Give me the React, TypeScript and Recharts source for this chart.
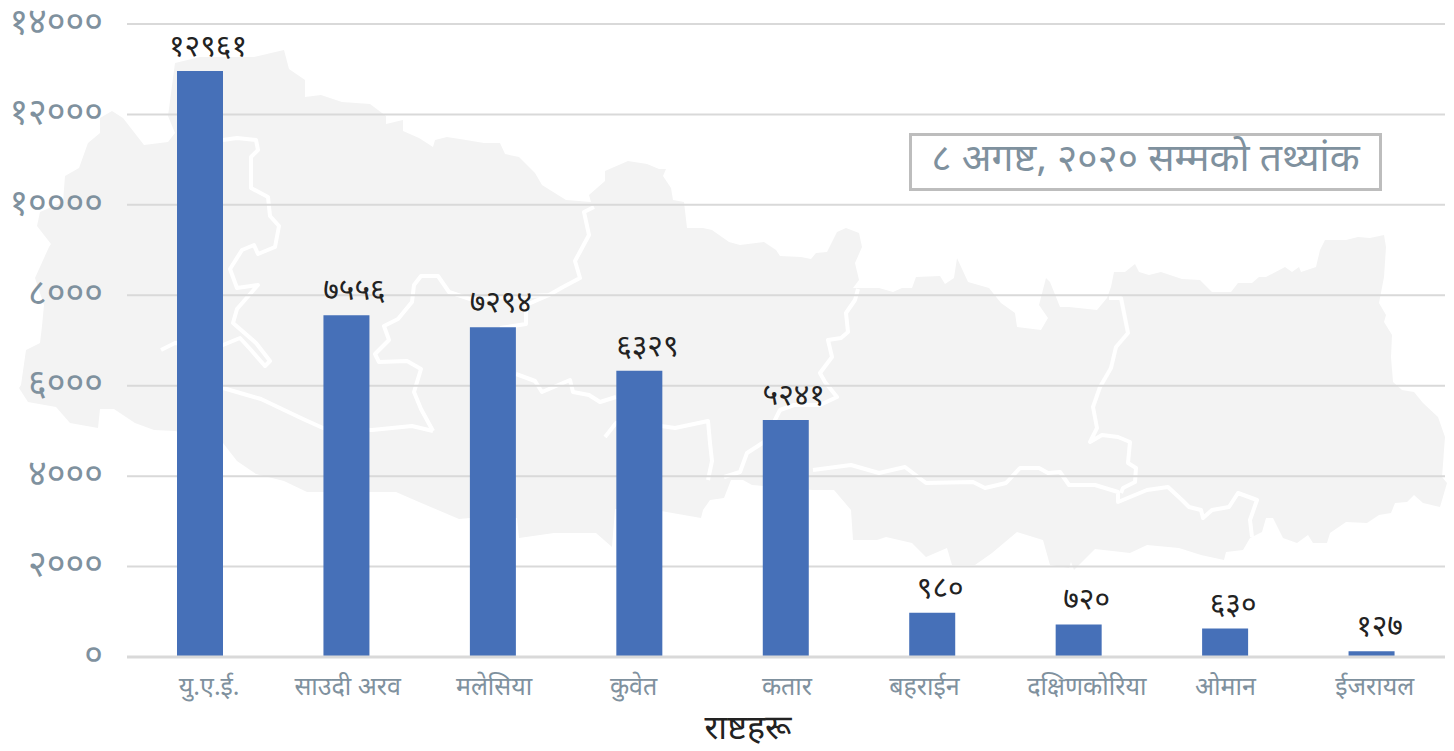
import { BarChart, Bar, XAxis, YAxis, CartesianGrid, LabelList } from 'recharts'

const countries = ['यु.ए.ई.', 'साउदी अरव', 'मलेसिया', 'कुवेत', 'कतार', 'बहराईन', 'दक्षिणकोरिया', 'ओमान', 'ईजरायल']
const infected = [12961, 7556, 7294, 6329, 5241, 980, 720, 630, 127]
const yTicks = [0, 2000, 4000, 6000, 8000, 10000, 12000, 14000]
// the source chart's category labels sit a bit off-centre
const tickNudge = [9, 1, 1, -6, 1, -8, 8, 0, 3]

const data = countries.map((name, i) => ({ name, value: infected[i] }))

const FONT = '"Noto Sans Devanagari", "Noto Sans", "Liberation Sans", sans-serif'
const nepaliDigits = '०१२३४५६७८९'
const toNepali = (n: number) => String(n).replace(/\d/g, (d) => nepaliDigits[Number(d)])

// backdrop map, traced by hand, just decoration behind the chart
const mapOutline =
  'M175 63 L200 57 L254 57 L284 50 L289 69 L305 80 L305 97 L321 95 L342 102 L370 104 L386 116 L386 124 L403 120 L403 131 L419 138 L433 147 L435 140 L447 137 L466 140 L484 143 L500 143 L505 154 L519 157 L535 173 L542 185 L566 200 L591 202 L589 195 L605 181 L605 171 L628 161 L647 164 L659 169 L666 169 L663 176 L671 188 L673 200 L684 202 L687 228 L703 228 L712 230 L729 242 L740 245 L764 242 L776 250 L780 256 L801 257 L811 259 L816 253 L827 252 L837 232 L846 228 L859 233 L862 247 L855 263 L859 280 L853 288 L879 288 L893 292 L902 288 L912 288 L916 277 L940 276 L945 284 L954 278 L957 258 L968 282 L989 288 L1001 303 L1015 313 L1017 327 L1041 330 L1048 318 L1039 305 L1046 278 L1050 282 L1060 307 L1069 307 L1097 310 L1107 298 L1111 287 L1114 272 L1125 272 L1135 264 L1139 272 L1149 275 L1161 272 L1182 279 L1200 280 L1212 292 L1231 292 L1238 283 L1252 283 L1259 277 L1266 277 L1285 267 L1292 272 L1299 267 L1301 272 L1316 267 L1320 250 L1325 240 L1346 240 L1358 237 L1370 238 L1384 235 L1386 247 L1384 277 L1379 303 L1386 315 L1384 322 L1392 335 L1391 357 L1393 382 L1402 390 L1414 392 L1423 403 L1438 417 L1445 437 L1442 477 L1447 483 L1440 507 L1423 503 L1414 495 L1407 502 L1395 503 L1391 513 L1379 515 L1367 523 L1346 522 L1330 533 L1327 543 L1313 543 L1308 535 L1297 543 L1283 538 L1273 518 L1266 518 L1262 532 L1250 538 L1243 550 L1226 552 L1224 560 L1201 555 L1179 548 L1147 545 L1130 553 L1095 549 L1074 570 L1071 562 L1069 568 L1050 565 L1043 540 L1017 532 L992 553 L975 565 L952 565 L947 548 L926 557 L912 543 L886 537 L877 540 L853 540 L851 510 L834 490 L813 490 L752 485 L743 480 L731 480 L724 498 L710 500 L703 510 L701 518 L661 511 L615 509 L612 547 L596 533 L554 533 L519 538 L517 518 L470 518 L459 519 L419 502 L396 492 L307 492 L284 481 L256 474 L237 461 L223 443 L175 431 L154 430 L135 423 L114 409 L100 409 L98 428 L70 423 L56 407 L28 402 L19 388 L21 385 L26 350 L40 343 L42 326 L44 305 L35 278 L49 247 L51 244 L37 226 L40 212 L63 202 L65 176 L79 168 L88 143 L100 133 L100 118 L112 111 L123 118 L144 145 L168 142 L175 133 L168 116 Z'

const mapBorders = [
  'M223 140 L237 138 L256 140 L258 150 L251 157 L251 188 L268 197 L270 216 L279 226 L275 247 L258 254 L254 245 L242 250 L230 269 L237 288 L258 285 L237 309 L233 323 L256 343 L270 361 L265 366 L251 350 L240 338 L223 345 L175 343 L161 350',
  'M223 388 L261 399 L303 419 L323 428 L372 430 L412 426 L433 431',
  'M433 431 L421 409 L414 392 L421 369 L407 361 L379 362 L375 354 L389 340 L384 326 L398 319 L412 302 L414 285 L421 276 L438 276 L449 292 L470 299 L549 295 L563 287 L580 278 L575 261 L589 235 L584 212 L594 207',
  'M549 295 L526 305 L526 324 L500 328',
  'M516 374 L535 381 L542 392 L570 380 L573 392 L589 395 L600 402 L616 397',
  'M605 437 L616 423 L661 426 L675 428 L708 421 L710 443 L712 461 L708 480',
  'M724 477 L740 472 L747 453 L764 442 L776 418 L780 410 L794 405 L820 405 L837 397 L825 382 L820 373 L832 357 L828 340 L841 338 L848 332 L846 313 L855 300 L858 289',
  'M813 470 L851 465 L879 473 L905 467 L926 483 L973 482 L985 488 L1006 483 L1020 468 L1039 468 L1048 473 L1060 472 L1069 485 L1095 485 L1118 492 L1118 502 L1147 490 L1168 487 L1182 500 L1189 507 L1201 510 L1203 518 L1212 510 L1229 507 L1238 493 L1257 500 L1250 520 L1252 537',
  'M1109 298 L1121 298 L1128 333 L1116 347 L1111 368 L1100 387 L1093 407 L1097 428 L1090 442 L1102 435 L1118 437 L1130 442 L1128 463 L1136 468 L1135 482 L1123 488 L1121 493',
]

function ValueLabel(props: any) {
  const { x, y, width, value } = props
  return (
    <text x={x + width / 2 + 8} y={y - 15} textAnchor="middle" fontSize={30} fontFamily={FONT} fill="#222">
      {toNepali(value)}
    </text>
  )
}

function CountryTick(props: any) {
  const { x, y, payload, index } = props
  return (
    <text x={x + tickNudge[index]} y={y + 30} textAnchor="middle" fontSize={25} fontFamily={FONT} fill="#7f919e">
      {payload.value}
    </text>
  )
}

export default function App() {
  return (
    <div style={{ position: 'absolute', left: 0, top: 0, width: 1454, height: 751, background: '#fff', overflow: 'hidden', fontFamily: FONT }}>
      <svg width={1454} height={751} style={{ position: 'absolute', left: 0, top: 0 }}>
        <path d={mapOutline} fill="#f3f3f3" />
        {mapBorders.map((d) => (
          <path key={d} d={d} fill="none" stroke="#fff" strokeWidth={4} strokeLinejoin="round" />
        ))}
      </svg>
      <div style={{ position: 'absolute', left: 0, top: 0 }}>
        <BarChart width={1454} height={751} data={data} margin={{ top: 24, right: 9, left: 0, bottom: 0 }} barSize={46}>
          <CartesianGrid vertical={false} stroke="#d9d9d9" strokeWidth={2} />
          <XAxis
            dataKey="name"
            interval={0}
            height={94}
            tickLine={false}
            axisLine={{ stroke: '#d9d9d9', strokeWidth: 3 }}
            tick={CountryTick}
            label={{ value: 'राष्टहरू', position: 'insideBottom', offset: 12, fontSize: 34, fill: '#222', fontFamily: FONT, dx: -38 }}
          />
          <YAxis
            width={127}
            domain={[0, 14000]}
            ticks={yTicks}
            tickLine={false}
            axisLine={false}
            tickFormatter={toNepali}
            tick={{ fontSize: 36, fill: '#7f919e', fontFamily: FONT, dy: -3 }}
            tickMargin={18}
          />
          <Bar dataKey="value" fill="#4670b8" isAnimationActive={false}>
            <LabelList dataKey="value" content={ValueLabel} />
          </Bar>
        </BarChart>
      </div>
      <div
        style={{
          position: 'absolute',
          left: 909,
          top: 133,
          width: 467,
          height: 52,
          border: '3px solid #bdbdbd',
          boxSizing: 'content-box',
          background: '#fff',
          display: 'flex',
          alignItems: 'center',
          justifyContent: 'center',
          fontSize: 39,
          lineHeight: '56px',
          whiteSpace: 'nowrap',
          color: '#7f919e',
        }}
      >
        ८ अगष्ट, २०२० सम्मको तथ्यांक
      </div>
    </div>
  )
}
